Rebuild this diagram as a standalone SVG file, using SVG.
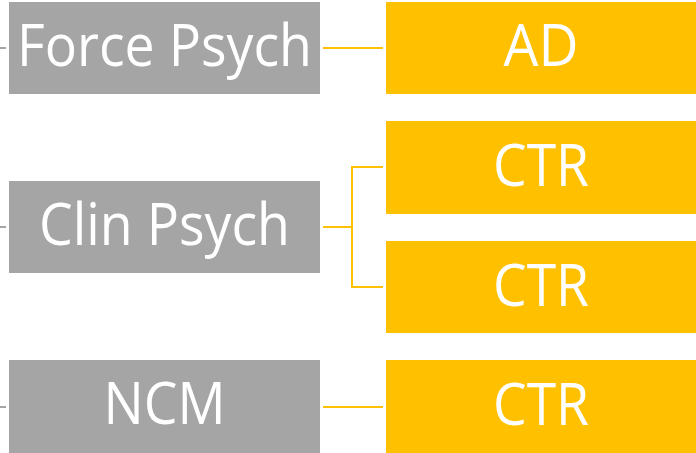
<svg xmlns="http://www.w3.org/2000/svg" width="696" height="453" viewBox="0 0 696 453">
<style>
.g{fill:#A5A5A5}
.y{fill:#FFC000}
.t{font-family:"Open Sans","Noto Sans",sans-serif;font-size:58px;fill:#FFFFFF;text-anchor:middle}
.cy{stroke:#FFC000;stroke-width:2;fill:none}
.cg{stroke:#A5A5A5;stroke-width:2;fill:none}
</style>
<rect width="696" height="453" fill="#FFFFFF"/>
<g id="connectors">
<line class="cg" x1="0" y1="48" x2="6" y2="48"/>
<line class="cg" x1="0" y1="227" x2="6" y2="227"/>
<line class="cg" x1="0" y1="407" x2="6" y2="407"/>
<line class="cy" x1="323" y1="48" x2="383" y2="48"/>
<path class="cy" d="M323 227H352M383 167H352V287H383"/>
<line class="cy" x1="323" y1="407" x2="383" y2="407"/>
</g>
<g id="force-psych"><rect class="g" x="9" y="2" width="311" height="92"/><text class="t" x="164.5" y="66" textLength="295" lengthAdjust="spacingAndGlyphs">Force Psych</text></g>
<g id="clin-psych"><rect class="g" x="9" y="181" width="311" height="92"/><text class="t" x="164.5" y="245" textLength="251" lengthAdjust="spacingAndGlyphs">Clin Psych</text></g>
<g id="ncm"><rect class="g" x="9" y="360" width="311" height="93"/><text class="t" x="164.5" y="424" textLength="122" lengthAdjust="spacingAndGlyphs">NCM</text></g>
<g id="ad"><rect class="y" x="386" y="2" width="310" height="92"/><text class="t" x="541" y="66" textLength="75" lengthAdjust="spacingAndGlyphs">AD</text></g>
<g id="ctr1"><rect class="y" x="386" y="121" width="310" height="93"/><text class="t" x="541" y="186" textLength="96" lengthAdjust="spacingAndGlyphs">CTR</text></g>
<g id="ctr2"><rect class="y" x="386" y="241" width="310" height="92"/><text class="t" x="541" y="306" textLength="96" lengthAdjust="spacingAndGlyphs">CTR</text></g>
<g id="ctr3"><rect class="y" x="386" y="360" width="310" height="93"/><text class="t" x="541" y="425" textLength="96" lengthAdjust="spacingAndGlyphs">CTR</text></g>
</svg>
